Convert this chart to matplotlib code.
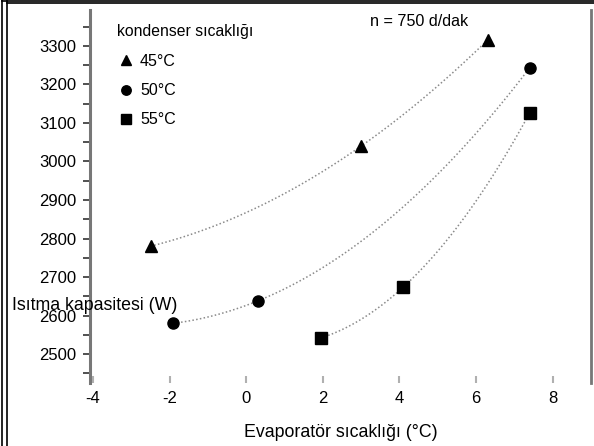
import matplotlib.pyplot as plt
import numpy as np
from matplotlib.lines import Line2D

plt.rcParams['font.family'] = ['Liberation Sans', 'DejaVu Sans']
plt.rcParams['axes.unicode_minus'] = False

# Evaporator temperature (°C) and heating capacity (W) per condenser temperature
evap_45 = [-2.5, 3.0, 6.3]
cap_45 = [2780, 3040, 3315]
evap_50 = [-1.9, 0.3, 7.4]
cap_50 = [2580, 2638, 3243]
evap_55 = [1.95, 4.1, 7.4]
cap_55 = [2542, 2674, 3126]

series = [
    ('45°C', evap_45, cap_45, '^'),
    ('50°C', evap_50, cap_50, 'o'),
    ('55°C', evap_55, cap_55, 's'),
]

x_ticks = [-4, -2, 0, 2, 4, 6, 8]
y_ticks = [2500, 2600, 2700, 2800, 2900, 3000, 3100, 3200, 3300]

fig = plt.figure(figsize=(5.94, 4.46), dpi=100)
ax = fig.add_axes([90 / 594, 1 - 383 / 446, 501 / 594, 373 / 446])

for label, xs, ys, mk in series:
    # quadratic trendline through the measured points
    coef = np.polyfit(xs, ys, 2)
    xx = np.linspace(min(xs), max(xs), 100)
    ax.plot(xx, np.polyval(coef, xx), ls=(0, (1, 1.5)), color='#8a8a8a', lw=1.1, zorder=2)
    ax.plot(xs, ys, ls='none', marker=mk, color='black', ms=8, zorder=3, label=label)

ax.set_xlim(-4.08, 9.0)
ax.set_ylim(2425, 3393)
ax.set_xticks(x_ticks)
ax.set_yticks(y_ticks)
ax.set_yticks([v + 50 for v in y_ticks[:-1]] + [2450, 3350], minor=True)
ax.tick_params(axis='y', direction='out', length=5, width=1.2, color='#333333', labelsize=12, pad=5)
ax.tick_params(axis='y', which='minor', direction='out', length=5, width=1.2, color='#333333')
ax.tick_params(axis='x', direction='in', length=5, width=1.5, color='#b0b0b0', labelsize=12, pad=6)

for side in ['top', 'bottom']:
    ax.spines[side].set_visible(False)
ax.spines['left'].set_color('#777777')
ax.spines['left'].set_linewidth(2.2)
ax.spines['right'].set_color('#777777')
ax.spines['right'].set_linewidth(2.0)

ax.set_xlabel('Evaporatör sıcaklığı (°C)', fontsize=12.8, labelpad=13)
fig.text(12 / 594, 1 - 305 / 446, 'Isıtma kapasitesi (W)', fontsize=12.8, ha='left', va='center')

ax.text(0.657, 0.968, 'n = 750 d/dak', transform=ax.transAxes, fontsize=11.6, ha='center', va='center')

leg = ax.legend(loc='upper left', bbox_to_anchor=(0.025, 1.0), title='kondenser sıcaklığı',
                frameon=False, fontsize=11.5, title_fontsize=11.3, handletextpad=0.25,
                labelspacing=0.9, handlelength=1.2, markerscale=0.85)
leg._legend_box.align = 'left'

# outer frame of the scanned figure
for x0, y0, x1, y1 in [(2, 0, 2, 446), (7, 0, 7, 446), (7, 3, 594, 3), (2, 1, 594, 1)]:
    fig.add_artist(Line2D([x0 / 594, x1 / 594], [1 - y0 / 446, 1 - y1 / 446],
                          transform=fig.transFigure, color='black', lw=1.2))

fig.savefig('out.png', dpi=100)
